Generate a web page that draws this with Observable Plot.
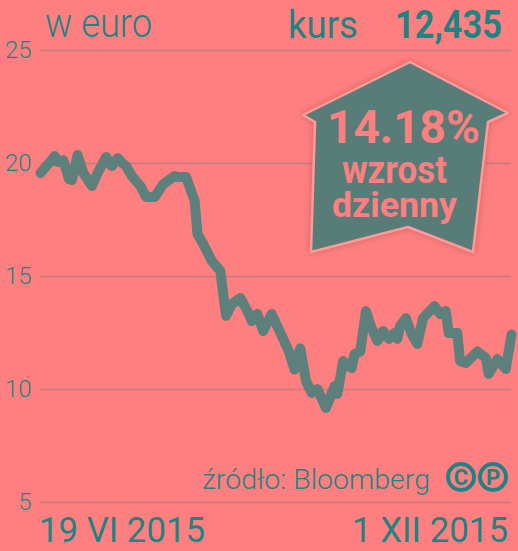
<!DOCTYPE html>
<html>
<head>
<meta charset="utf-8">
<script src="https://cdn.jsdelivr.net/npm/d3@7"></script>
<script src="https://cdn.jsdelivr.net/npm/@observablehq/plot@0.6"></script>
<style>
  html, body { margin: 0; padding: 0; background: #fe7f7f; }
  #wrap { position: relative; width: 518px; height: 551px; overflow: hidden; background: #fe7f7f; }
  #wrap > svg { position: absolute; left: 0; top: 0; }
  #overlay { pointer-events: none; }
</style>
</head>
<body>
<div id="wrap"></div>
<script>
// ---- data ----
const dates = [
  "2015-06-19","2015-06-22","2015-06-24","2015-06-25","2015-06-27","2015-06-29","2015-06-30",
  "2015-07-02","2015-07-04","2015-07-07","2015-07-09","2015-07-12","2015-07-14","2015-07-16",
  "2015-07-18","2015-07-19","2015-07-21","2015-07-24","2015-07-26","2015-07-29","2015-08-01",
  "2015-08-05","2015-08-06","2015-08-09","2015-08-12","2015-08-13","2015-08-15","2015-08-18",
  "2015-08-21","2015-08-22","2015-08-23","2015-08-25","2015-08-28","2015-08-31","2015-09-01",
  "2015-09-03","2015-09-05","2015-09-08","2015-09-10","2015-09-14","2015-09-16","2015-09-18",
  "2015-09-20","2015-09-22","2015-09-24","2015-09-27","2015-09-30","2015-10-01","2015-10-03",
  "2015-10-06","2015-10-07","2015-10-09","2015-10-11","2015-10-13","2015-10-15","2015-10-17",
  "2015-10-19","2015-10-21","2015-10-22","2015-10-23","2015-10-25","2015-10-27","2015-10-29",
  "2015-10-31","2015-11-04","2015-11-06","2015-11-08","2015-11-09","2015-11-12","2015-11-13",
  "2015-11-15","2015-11-19","2015-11-22","2015-11-23","2015-11-26","2015-11-29","2015-12-01"
];
const prices = [
  19.58,20.02,20.33,20.07,20.15,19.31,19.27,
  20.38,19.58,19.00,19.58,20.29,19.89,20.24,
  19.98,19.89,19.45,19.00,18.52,18.52,19.09,
  19.45,19.40,19.40,18.34,16.88,16.44,15.69,
  15.24,14.23,13.26,13.78,14.05,13.34,13.03,
  13.34,12.59,13.34,12.79,11.68,10.89,11.82,
  10.38,9.85,10.02,9.18,10.15,9.80,11.26,
  10.95,11.57,11.68,13.47,12.72,12.15,12.59,
  12.24,12.50,12.24,12.81,13.16,12.46,12.02,
  13.16,13.69,13.34,13.47,12.50,12.50,11.26,
  11.17,11.68,11.39,10.69,11.35,10.91,12.435
];
const yTicks = [5, 10, 15, 20, 25];
const xDomain = ["2015-06-19", "2015-12-01"];
const unitLabel = "w euro";
const kursLabel = "kurs";
const kursValue = "12,435";
const badgeLines = ["14.18%", "wzrost", "dzienny"];
const sourceLabel = "źródło: Bloomberg";
const startLabel = "19 VI 2015";
const endLabel = "1 XII 2015";

// ---- colours ----
const BG = "#fe7f7f";
const TEAL = "#1f8383";
const LINE = "#5e807d";
const GRID = "#c87a7c";
const BADGE = "#587d79";

const data = dates.map((d, i) => ({date: new Date(d), value: prices[i]}));

const chart = Plot.plot({
  width: 518,
  height: 551,
  marginTop: 50,
  marginBottom: 49,
  marginLeft: 40,
  marginRight: 7,
  style: {background: "transparent", color: TEAL, fontFamily: "Roboto, sans-serif"},
  x: {type: "utc", domain: xDomain.map(d => new Date(d)), axis: null},
  y: {domain: [5, 25], axis: null},
  marks: [
    Plot.ruleY(yTicks, {stroke: GRID, strokeWidth: 1.5}),
    Plot.axisY({ticks: yTicks, tickSize: 0, tickPadding: 9, label: null, fontSize: 24, fontWeight: 300, tickFormat: d => String(d)}),
    Plot.line(data, {x: "date", y: "value", stroke: LINE, strokeWidth: 10, strokeLinejoin: "round", strokeLinecap: "round"})
  ]
});
document.getElementById("wrap").appendChild(chart);

// ---- annotation overlay (titles, badge, source) ----
const NS = "http://www.w3.org/2000/svg";
const ov = document.createElementNS(NS, "svg");
ov.setAttribute("id", "overlay");
ov.setAttribute("width", 518);
ov.setAttribute("height", 551);
ov.setAttribute("viewBox", "0 0 518 551");
ov.innerHTML = `
<defs>
  <filter id="glow" x="-20%" y="-20%" width="140%" height="140%">
    <feDropShadow dx="0" dy="0" stdDeviation="3" flood-color="#b85656" flood-opacity="0.7"/>
  </filter>
</defs>`;
document.getElementById("wrap").appendChild(ov);

function txt(s, x, y, opts) {
  const t = document.createElementNS(NS, "text");
  t.textContent = s;
  t.setAttribute("x", x);
  t.setAttribute("y", y);
  t.setAttribute("font-family", opts.family || "Roboto, sans-serif");
  t.setAttribute("font-size", opts.size);
  t.setAttribute("font-weight", opts.weight || 400);
  t.setAttribute("fill", opts.fill || TEAL);
  if (opts.len) { t.setAttribute("textLength", opts.len); t.setAttribute("lengthAdjust", "spacingAndGlyphs"); }
  if (opts.anchor) t.setAttribute("text-anchor", opts.anchor);
  ov.appendChild(t);
  return t;
}

txt(unitLabel, 45, 37, {size: 40, weight: 300, len: 107});
txt(kursLabel, 288, 38, {size: 39, weight: 400, len: 70});
txt(kursValue, 395, 38, {size: 39, weight: 700, len: 107});

const arrow = document.createElementNS(NS, "path");
arrow.setAttribute("d", "M410,62 L508,113 L488,122 L473,252 L408,227 L311,252 L315,122 L303,115 Z");
arrow.setAttribute("fill", BADGE);
arrow.setAttribute("stroke", "#ff9a9a");
arrow.setAttribute("stroke-width", 2.5);
arrow.setAttribute("stroke-linejoin", "round");
arrow.setAttribute("filter", "url(#glow)");
ov.appendChild(arrow);

txt(badgeLines[0], 327, 143, {size: 46, weight: 700, len: 153, fill: BG});
txt(badgeLines[1], 342, 183, {size: 39, weight: 700, len: 105, fill: BG});
txt(badgeLines[2], 332, 217, {size: 35, weight: 700, len: 125, fill: BG});

txt(sourceLabel, 202, 489, {size: 28, weight: 300, len: 228});

// CP logo
[[461, "C"], [493, "P"]].forEach(([cx, ch]) => {
  const c = document.createElementNS(NS, "circle");
  c.setAttribute("cx", cx); c.setAttribute("cy", 477); c.setAttribute("r", 13);
  c.setAttribute("fill", "none"); c.setAttribute("stroke", TEAL); c.setAttribute("stroke-width", 4);
  ov.appendChild(c);
  txt(ch, cx, 485, {size: 22, weight: 700, anchor: "middle"});
});

txt(startLabel, 39, 542, {size: 35, weight: 400, len: 166});
txt(endLabel, 352, 542, {size: 35, weight: 400, len: 156});
</script>
</body>
</html>
